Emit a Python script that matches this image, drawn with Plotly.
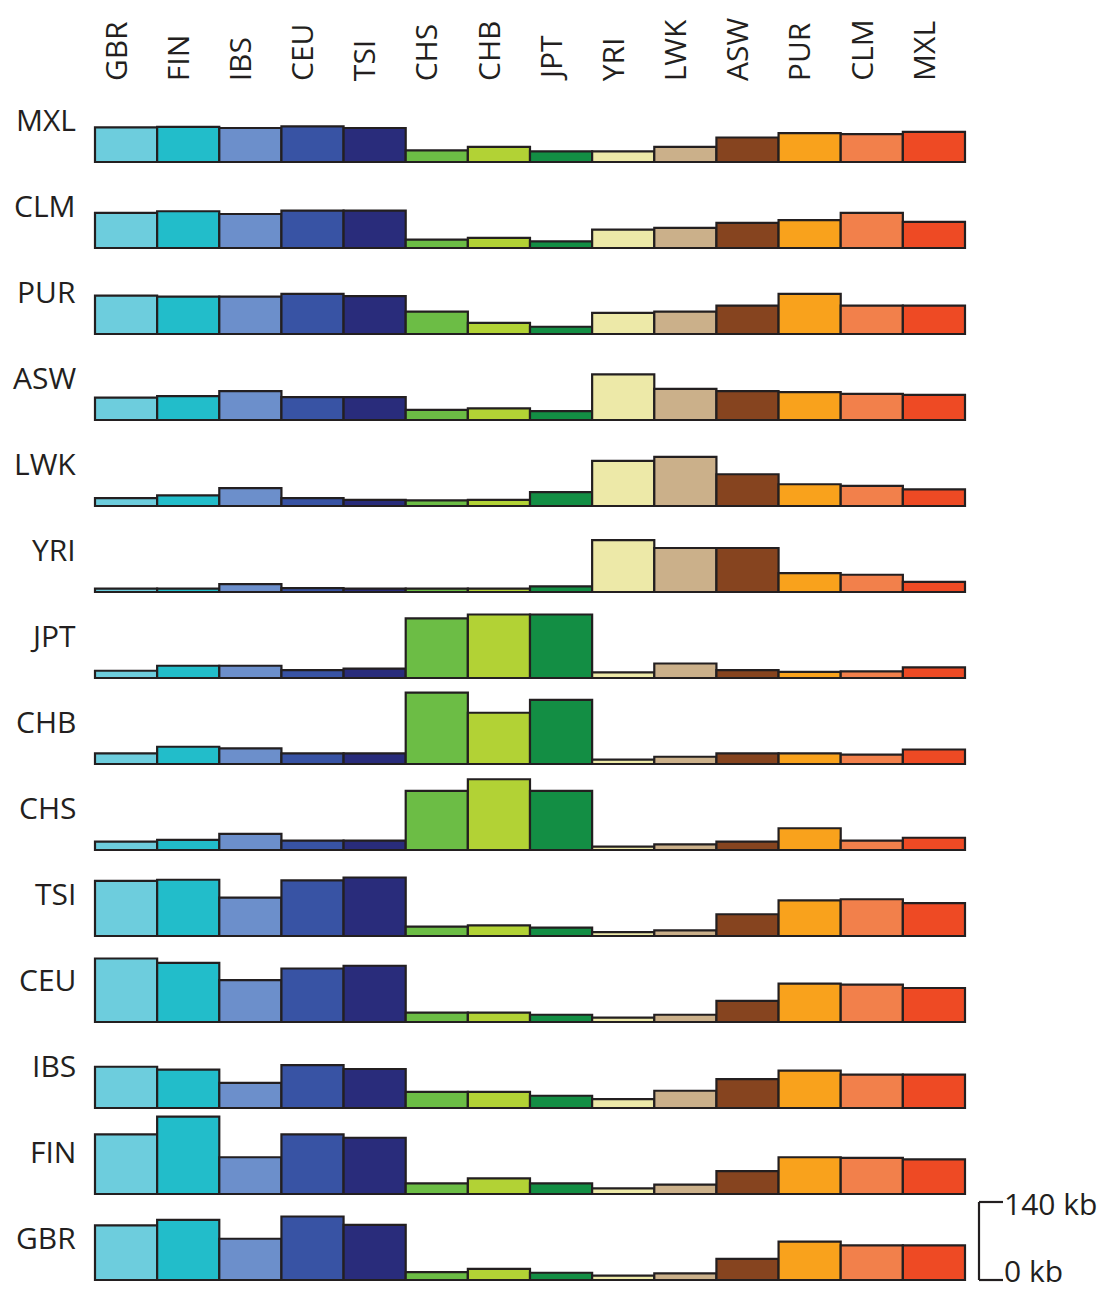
import plotly.graph_objects as go

# Populations, in column order (left to right)
POPS = ["GBR", "FIN", "IBS", "CEU", "TSI", "CHS", "CHB", "JPT",
        "YRI", "LWK", "ASW", "PUR", "CLM", "MXL"]

POP_COLORS = ["#6DCDDD", "#22BDCA", "#6C8FCB", "#3853A4", "#292C7B",
              "#6CBD45", "#B2D235", "#138E44", "#EDE9A8", "#CBB08A",
              "#86441F", "#F9A21C", "#F2804B", "#EE4A24"]

# Shared haplotype length (kb) of each row population with each column population
GBR_ROW = [98, 108, 74, 114, 99, 14, 20, 13, 8, 12, 38, 69, 62, 62]
FIN_ROW = [107, 139, 66, 107, 101, 19, 28, 19, 10, 17, 41, 66, 65, 62]
IBS_ROW = [74, 69, 45, 77, 70, 29, 29, 22, 16, 31, 52, 67, 60, 60]
CEU_ROW = [114, 106, 75, 96, 101, 17, 17, 13, 8, 13, 38, 69, 67, 61]
TSI_ROW = [99, 101, 69, 100, 105, 17, 19, 15, 7, 10, 39, 64, 66, 59]
CHS_ROW = [15, 18, 29, 17, 17, 106, 127, 106, 6, 10, 15, 39, 17, 22]
CHB_ROW = [19, 31, 28, 19, 19, 128, 92, 115, 8, 13, 19, 19, 17, 26]
JPT_ROW = [13, 22, 22, 14, 17, 107, 114, 114, 10, 26, 14, 11, 12, 19]
YRI_ROW = [6, 6, 14, 7, 6, 6, 6, 10, 93, 79, 79, 34, 31, 18]
LWK_ROW = [14, 19, 32, 14, 11, 10, 11, 25, 81, 88, 57, 39, 36, 30]
ASW_ROW = [40, 43, 52, 41, 41, 18, 21, 16, 82, 56, 52, 50, 47, 45]
PUR_ROW = [69, 67, 67, 72, 68, 40, 20, 13, 38, 40, 51, 72, 51, 51]
CLM_ROW = [63, 66, 61, 67, 67, 15, 18, 12, 33, 36, 45, 50, 63, 47]
MXL_ROW = [62, 63, 61, 64, 61, 21, 27, 19, 19, 27, 44, 52, 50, 54]

# Rows from bottom (GBR) to top (MXL)
ROWS = [GBR_ROW, FIN_ROW, IBS_ROW, CEU_ROW, TSI_ROW, CHS_ROW, CHB_ROW,
        JPT_ROW, YRI_ROW, LWK_ROW, ASW_ROW, PUR_ROW, CLM_ROW, MXL_ROW]

SCALE_KB = 140

# ---- layout geometry (pixels) ----
W, H = 1107, 1291
X_LEFT_PX, X_RIGHT_PX = 95, 965          # extent of the bar columns
BASE_BOTTOM_PX = 1280                    # baseline of the bottom row
PX_PER_KB = 78 / 140
ROW_STEP_PX = 86
ROW_STEP_KB = ROW_STEP_PX / PX_PER_KB

n = len(POPS)
px_per_col = (X_RIGHT_PX - X_LEFT_PX) / n
x_range = [-X_LEFT_PX / px_per_col, n + (W - X_RIGHT_PX) / px_per_col]
y_range = [-(H - BASE_BOTTOM_PX) / PX_PER_KB, BASE_BOTTOM_PX / PX_PER_KB]

INK = "#231F20"
FONT = "Open Sans"
FS = 30

centers = [i + 0.5 for i in range(n)]

fig = go.Figure()
for r, values in enumerate(ROWS):
    offset = r * ROW_STEP_KB
    fig.add_trace(go.Bar(
        x=centers, y=values, base=[offset] * n, width=1,
        marker=dict(color=POP_COLORS, line=dict(color=INK, width=2.2)),
        showlegend=False, hoverinfo="skip",
    ))
    # row label at the left
    fig.add_annotation(
        x=78 / W, xref="paper", xanchor="right",
        y=offset, yref="y", yshift=43, yanchor="middle",
        text=POPS[r], showarrow=False,
        font=dict(family=FONT, size=FS, color=INK),
    )

# column labels along the top, rotated
for i, name in enumerate(POPS):
    fig.add_annotation(
        x=centers[i], xref="x", xshift=-11, xanchor="center",
        y=1 - 83 / H, yref="paper", yanchor="bottom",
        text=name, textangle=-90, showarrow=False,
        font=dict(family=FONT, size=FS, color=INK),
    )

# scale bar
sx0, sx1 = 979 / W, 1003 / W
line = dict(color=INK, width=2.2)
fig.add_shape(type="line", xref="paper", yref="y", x0=sx0, x1=sx0, y0=0, y1=SCALE_KB, line=line)
fig.add_shape(type="line", xref="paper", yref="y", x0=sx0, x1=sx1, y0=0, y1=0, line=line)
fig.add_shape(type="line", xref="paper", yref="y", x0=sx0, x1=sx1, y0=SCALE_KB, y1=SCALE_KB, line=line)
for val, shift in ((SCALE_KB, -1), (0, 10)):
    fig.add_annotation(
        x=1003 / W, xref="paper", xanchor="left",
        y=val, yref="y", yshift=shift, yanchor="middle",
        text=f"{val} kb", showarrow=False, borderpad=0,
        font=dict(family=FONT, size=FS, color=INK),
    )

fig.update_layout(
    width=W, height=H,
    margin=dict(l=0, r=0, t=0, b=0),
    paper_bgcolor="white", plot_bgcolor="white",
    barmode="overlay",
    xaxis=dict(range=x_range, visible=False, fixedrange=True),
    yaxis=dict(range=y_range, visible=False, fixedrange=True),
)

fig.write_html("out.html", config={"displayModeBar": False})
